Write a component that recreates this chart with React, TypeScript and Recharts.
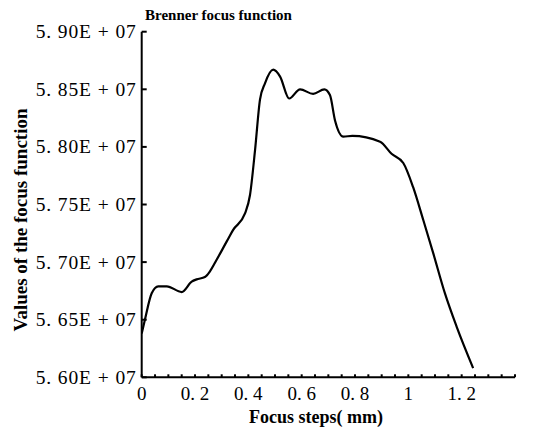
import React from 'react';
import { LineChart, Line, XAxis, YAxis, Customized } from 'recharts';

const focusSteps = [
  0, 0.012, 0.0375, 0.062, 0.094, 0.15, 0.1875, 0.206, 0.237, 0.256, 0.281, 0.319,
  0.343, 0.387, 0.406, 0.425, 0.4436, 0.462, 0.493, 0.519, 0.553, 0.594,
  0.643, 0.685, 0.706, 0.725, 0.756, 0.79, 0.894, 0.937, 0.981, 1.018, 1.056, 1.093,
  1.137, 1.181, 1.243,
];
const focusValues = [
  56380000, 56500000, 56730000, 56790000, 56790000, 56740000, 56830000, 56850000,
  56870000, 56920000, 57020000, 57180000, 57280000, 57420000, 57580000,
  57970000, 58410000, 58550000, 58670000, 58610000, 58420000, 58500000, 58460000,
  58500000, 58450000, 58230000, 58090000, 58095000, 58045000, 57940000, 57860000,
  57650000, 57365000, 57080000, 56730000, 56440000, 56080000,
];

const xMinorTicks = [
  0, 0.05, 0.1, 0.15, 0.2, 0.25, 0.3, 0.35, 0.4, 0.45, 0.5, 0.55, 0.6, 0.65, 0.7,
  0.75, 0.8, 0.85, 0.9, 0.95, 1, 1.05, 1.1, 1.15, 1.2, 1.25, 1.3, 1.35, 1.4,
];
const xLabelTicks = [0, 0.2, 0.4, 0.6, 0.8, 1, 1.2];
const xTickLabels = ['0', '0. 2', '0. 4', '0. 6', '0. 8', '1', '1. 2'];

const yTicks = [56000000, 56500000, 57000000, 57500000, 58000000, 58500000, 59000000];
const yTickLabels = [
  '5. 60E + 07', '5. 65E + 07', '5. 70E + 07', '5. 75E + 07', '5. 80E + 07',
  '5. 85E + 07', '5. 90E + 07',
];

const data = focusSteps.map((x, i) => ({ x, value: focusValues[i] }));

const FONT = '"Liberation Serif", "Times New Roman", serif';

const XTick = (props: any) => {
  const { x, y, payload } = props;
  const v = payload.value;
  const idx = xLabelTicks.findIndex((t) => Math.abs(t - v) < 1e-6);
  return (
    <g>
      <line x1={x} x2={x} y1={y} y2={y - 3} stroke="#000" strokeWidth={2} />
      {idx >= 0 && (
        <text x={x} y={y + 23} textAnchor="middle" fontFamily={FONT} fontSize={19} fill="#000">
          {xTickLabels[idx]}
        </text>
      )}
    </g>
  );
};

const YTick = (props: any) => {
  const { x, y, payload } = props;
  const idx = yTicks.findIndex((t) => Math.abs(t - payload.value) < 1);
  return (
    <g>
      <line x1={x} x2={x + 5} y1={y} y2={y} stroke="#000" strokeWidth={2} />
      <text
        x={x - 5}
        y={y + 6.5}
        textAnchor="end"
        fontFamily={FONT}
        fontSize={19.5}
        letterSpacing={0.9}
        fill="#000"
      >
        {idx >= 0 ? yTickLabels[idx] : ''}
      </text>
    </g>
  );
};

const Labels = () => (
  <g>
    <text x={145} y={20} fontFamily={FONT} fontSize={15} fontWeight="bold" fill="#000">
      Brenner focus function
    </text>
    <text x={316} y={423} textAnchor="middle" fontFamily={FONT} fontSize={18} fontWeight="bold" fill="#000">
      Focus steps( mm)
    </text>
    <text
      x={0}
      y={0}
      transform="translate(27,220) rotate(-90)"
      textAnchor="middle"
      fontFamily={FONT}
      fontSize={19}
      fontWeight="bold"
      fill="#000"
    >
      Values of the focus function
    </text>
  </g>
);

export default function App() {
  return (
    <div style={{ position: 'absolute', left: 0, top: 0, background: '#fff' }}>
      <LineChart
        width={536}
        height={435}
        data={data}
        margin={{ top: 31.7, right: 21, bottom: 0, left: 0 }}
      >
        <XAxis
          dataKey="x"
          type="number"
          domain={[0, 1.4]}
          ticks={xMinorTicks}
          interval={0}
          height={57.7}
          tickSize={0}
          tickMargin={0}
          tickLine={false}
          axisLine={{ stroke: '#000', strokeWidth: 2 }}
          tick={<XTick />}
          allowDataOverflow
        />
        <YAxis
          type="number"
          domain={[56000000, 59000000]}
          ticks={yTicks}
          interval={0}
          width={141.7}
          tickSize={0}
          tickMargin={0}
          tickLine={false}
          axisLine={{ stroke: '#000', strokeWidth: 2 }}
          tick={<YTick />}
          allowDataOverflow
        />
        <Line
          type="monotone"
          dataKey="value"
          stroke="#000"
          strokeWidth={2.2}
          dot={false}
          isAnimationActive={false}
        />
        <Customized component={Labels} />
      </LineChart>
    </div>
  );
}
